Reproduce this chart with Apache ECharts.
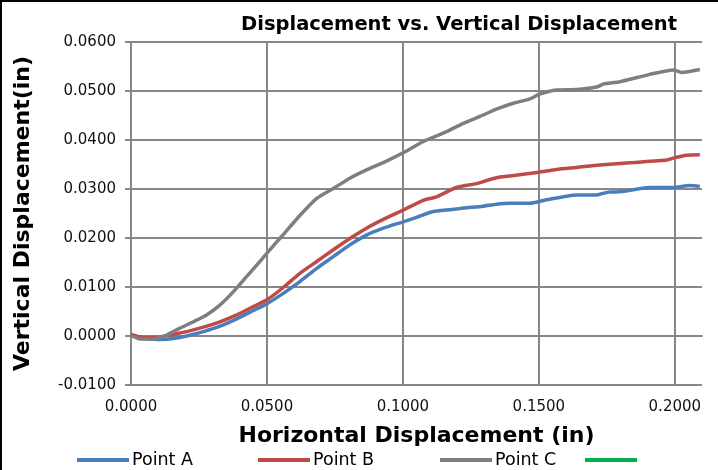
<!DOCTYPE html>
<html>
<head>
<meta charset="utf-8">
<script src="https://cdn.jsdelivr.net/npm/echarts@6/dist/echarts.min.js"></script>
<style>
  html, body { margin: 0; padding: 0; background: #fff; }
  #chart { width: 718px; height: 470px; }
</style>
</head>
<body>
<div id="chart"></div>
<script>
// Measured horizontal / vertical displacement for three tracked points (inches)
const pointAX = [0.002, 0.005, 0.0107, 0.0156, 0.0205, 0.0266, 0.0327, 0.0389, 0.045, 0.05, 0.056, 0.0621, 0.0683, 0.0744, 0.0805, 0.0866, 0.0928, 0.1001, 0.105, 0.1111, 0.1197, 0.1222, 0.1295, 0.1344, 0.1393, 0.1467, 0.1528, 0.1639, 0.1712, 0.1761, 0.1786, 0.1908, 0.1994, 0.2055, 0.2092];
const pointAY = [-0.0003, -0.0005, -0.0007, -0.0005, 0.0, 0.0009, 0.002, 0.0035, 0.0052, 0.0066, 0.0087, 0.0111, 0.0138, 0.0162, 0.0186, 0.0206, 0.022, 0.0233, 0.0242, 0.0254, 0.0259, 0.0261, 0.0265, 0.0269, 0.0271, 0.0271, 0.0278, 0.0288, 0.0288, 0.0294, 0.0294, 0.0303, 0.0303, 0.0307, 0.0305];

const pointBX = [0.0, 0.0045, 0.0094, 0.0143, 0.0205, 0.0266, 0.0327, 0.0389, 0.045, 0.05, 0.056, 0.0621, 0.0683, 0.0744, 0.0805, 0.0866, 0.0928, 0.1001, 0.1075, 0.1124, 0.1197, 0.127, 0.1344, 0.143, 0.15, 0.1565, 0.1639, 0.1724, 0.1847, 0.197, 0.1994, 0.2043, 0.2092];
const pointBY = [0.0003, -0.0003, -0.0003, 0.0002, 0.0009, 0.0018, 0.0029, 0.0043, 0.006, 0.0074, 0.0099, 0.0128, 0.0152, 0.0176, 0.0199, 0.022, 0.0238, 0.0257, 0.0277, 0.0284, 0.0303, 0.0311, 0.0323, 0.0329, 0.0334, 0.034, 0.0344, 0.0349, 0.0354, 0.0359, 0.0363, 0.0369, 0.037];

const pointCX = [0.0002, 0.0033, 0.0082, 0.0131, 0.018, 0.0229, 0.0278, 0.0327, 0.0376, 0.0425, 0.0474, 0.05, 0.0536, 0.056, 0.0621, 0.0683, 0.0744, 0.0805, 0.0866, 0.0928, 0.1001, 0.1075, 0.1161, 0.1222, 0.1283, 0.1344, 0.1406, 0.1467, 0.15, 0.1565, 0.1639, 0.1712, 0.1737, 0.1798, 0.1908, 0.1994, 0.2025, 0.2092];
const pointCY = [0.0, -0.0006, -0.0006, 0.0002, 0.0016, 0.0029, 0.0043, 0.0063, 0.009, 0.0121, 0.0152, 0.0169, 0.0192, 0.0207, 0.0246, 0.0281, 0.0301, 0.0322, 0.0339, 0.0354, 0.0374, 0.0397, 0.0417, 0.0434, 0.0448, 0.0463, 0.0475, 0.0484, 0.0493, 0.0502, 0.0503, 0.0508, 0.0514, 0.0519, 0.0534, 0.0543, 0.0538, 0.0544];

const seriesNames = ['Point A', 'Point B', 'Point C', ' '];
const seriesColors = ['#4A7EBB', '#BE4B48', '#7F7F7F', '#00B050'];

const xTicks = { min: 0, max: 0.21, step: 0.05 };
const yTicks = { min: -0.01, max: 0.06, step: 0.01 };

const FONT = '"DejaVu Sans", sans-serif';
const GRID_COLOR = '#878787';

function zip(xs, ys) { return xs.map((x, i) => [x, ys[i]]); }

const seriesData = [zip(pointAX, pointAY), zip(pointBX, pointBY), zip(pointCX, pointCY), []];

const legendLefts = [77, 258, 440, 585];

const chart = echarts.init(document.getElementById('chart'), null, { renderer: 'canvas' });

chart.setOption({
  animation: false,
  backgroundColor: '#fff',
  title: {
    text: 'Displacement vs. Vertical Displacement',
    left: 454,
    textAlign: 'center',
    top: 10,
    textStyle: { fontFamily: FONT, fontWeight: 'bold', fontSize: 19.5, color: '#000' }
  },
  grid: { left: 131, right: 16, top: 42, bottom: 85, containLabel: false },
  legend: seriesNames.map((name, i) => ({
    data: [name],
    left: legendLefts[i],
    top: 451,
    icon: 'rect',
    itemWidth: 52,
    itemHeight: 4,
    itemGap: 0,
    padding: 0,
    selectedMode: false,
    textStyle: { fontFamily: FONT, fontSize: 17.5, color: '#000', padding: [0, 0, 0, -2] }
  })),
  xAxis: {
    type: 'value',
    min: xTicks.min,
    max: xTicks.max,
    interval: xTicks.step,
    name: 'Horizontal Displacement (in)',
    nameLocation: 'middle',
    nameGap: 40,
    nameTextStyle: { fontFamily: FONT, fontWeight: 'bold', fontSize: 22, color: '#000' },
    axisLine: { show: true, lineStyle: { color: GRID_COLOR, width: 2 } },
    axisTick: { show: false },
    axisLabel: {
      fontFamily: FONT, fontSize: 15, color: '#111', margin: 15,
      showMaxLabel: false,
      formatter: v => v.toFixed(4)
    },
    splitLine: { show: true, showMaxLine: false, lineStyle: { color: GRID_COLOR, width: 2 } }
  },
  yAxis: {
    type: 'value',
    min: yTicks.min,
    max: yTicks.max,
    interval: yTicks.step,
    name: 'Vertical Displacement(in)',
    nameLocation: 'middle',
    nameGap: 97,
    nameTextStyle: { fontFamily: FONT, fontWeight: 'bold', fontSize: 22, color: '#000' },
    axisLine: { show: true, lineStyle: { color: GRID_COLOR, width: 2 } },
    axisTick: { show: true, length: 6, lineStyle: { color: GRID_COLOR, width: 2 } },
    axisLabel: {
      fontFamily: FONT, fontSize: 15, color: '#111', margin: 15,
      formatter: v => v.toFixed(4)
    },
    splitLine: { show: true, lineStyle: { color: GRID_COLOR, width: 2 } }
  },
  series: seriesNames.map((name, i) => ({
    name: name,
    type: 'line',
    data: seriesData[i],
    showSymbol: false,
    smooth: 0.2,
    color: seriesColors[i],
    lineStyle: { width: 3.5, color: seriesColors[i] },
    z: 3 + i
  })),
  graphic: [
    { type: 'rect', shape: { x: 0, y: 0, width: 2, height: 470 }, style: { fill: '#000' } },
    { type: 'rect', shape: { x: 0, y: 0, width: 718, height: 2 }, style: { fill: '#000' } }
  ]
});
</script>
</body>
</html>
